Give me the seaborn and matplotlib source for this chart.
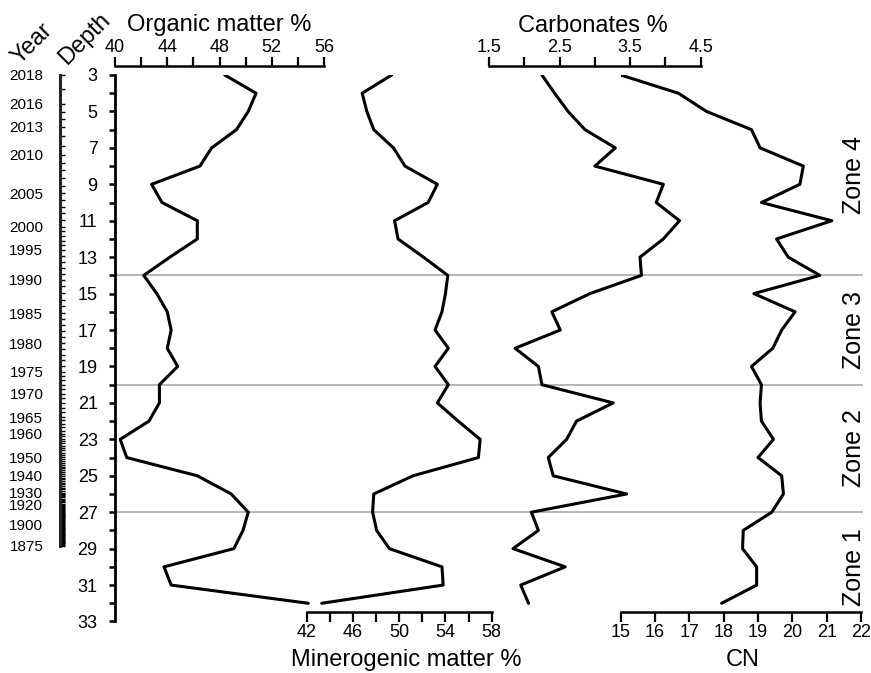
import numpy as np
import matplotlib
matplotlib.use("Agg")
import matplotlib.pyplot as plt
import matplotlib.transforms as mtransforms
from matplotlib.ticker import FixedLocator
import seaborn as sns

# sample depths (cm), one value per centimetre
depth = list(range(3, 33))

organic = [48.4, 50.8, 50.2, 49.3, 47.4, 46.5, 42.8, 43.6, 46.3, 46.3,
           44.2, 42.2, 43.2, 44.0, 44.3, 44.0, 44.8, 43.4, 43.4, 42.6,
           40.4, 40.9, 46.3, 48.9, 50.2, 49.8, 49.1, 43.75, 44.3, 54.8]

minerogenic = [49.35, 46.8, 47.2, 47.8, 49.5, 50.5, 53.3, 52.5, 49.6, 49.9,
               52.1, 54.2, 54.0, 53.7, 53.1, 54.25, 53.1, 54.25, 53.3, 55.1,
               57.0, 56.85, 51.2, 47.8, 47.7, 48.05, 49.15, 53.7, 53.8, 43.3]

carbonates = [2.25, 2.43, 2.62, 2.86, 3.29, 3.0, 3.97, 3.87, 4.2, 3.97,
              3.64, 3.66, 2.93, 2.39, 2.51, 1.87, 2.2, 2.25, 3.26, 2.74,
              2.6, 2.34, 2.41, 3.45, 2.1, 2.2, 1.84, 2.58, 1.95, 2.06]

cn = [15.0, 16.68, 17.5, 18.81, 19.06, 20.32, 20.22, 19.1, 21.15, 19.54,
      19.88, 20.8, 18.88, 20.08, 19.69, 19.43, 18.81, 19.1, 19.06, 19.1,
      19.45, 19.0, 19.69, 19.74, 19.4, 18.57, 18.55, 18.96, 18.96, 17.94]

# age-depth model (year -> depth)
year_labels = [2018, 2016, 2013, 2010, 2005, 2000, 1995, 1990, 1985, 1980,
               1975, 1970, 1965, 1960, 1950, 1940, 1930, 1920, 1900, 1875]
year_depth = [3.0, 4.59, 5.84, 7.39, 9.49, 11.32, 12.6, 14.24, 16.07, 17.72,
              19.28, 20.5, 21.78, 22.7, 23.98, 25.01, 25.92, 26.6, 27.66, 28.85]

zone_bounds = [3, 14, 20, 27, 33]
zone_names = ["Zone 4", "Zone 3", "Zone 2", "Zone 1"]

sns.set_style("white")
plt.rcParams["font.family"] = ["Liberation Sans", "DejaVu Sans"]
plt.rcParams["text.color"] = "black"

W, H = 871, 673
TOP, BOT = 75, 621.5
AX_BOTTOM = 611.7  # y of the lower x axes


def box(x0, x1, y0=TOP, y1=BOT):
    # pixel box -> figure rect
    return [x0 / W, 1 - y1 / H, (x1 - x0) / W, (y1 - y0) / H]


def fxy(x, y):
    return x / W, 1 - y / H


fig = plt.figure(figsize=(W / 100, H / 100), dpi=100)

# background: zone boundaries and labels
ax_bg = fig.add_axes(box(116, 863))
ax_bg.set_xlim(0, 1)
ax_bg.set_ylim(33, 3)
ax_bg.axis("off")
for b in zone_bounds[1:-1]:
    ax_bg.axhline(b, color="#a9a9a9", lw=1.2)
trans = mtransforms.blended_transform_factory(ax_bg.transAxes, ax_bg.transData)
for i, name in enumerate(zone_names):
    mid = (zone_bounds[i] + zone_bounds[i + 1]) / 2
    ax_bg.text((854 - 116) / (863 - 116), mid, name, transform=trans,
               rotation=90, ha="center", va="center", fontsize=18)


def panel(rect, xlim, side, major, minor):
    ax = fig.add_axes(rect)
    ax.set_facecolor("none")
    ax.set_xlim(*xlim)
    ax.set_ylim(33, 3)
    for s in ax.spines.values():
        s.set_visible(False)
    sp = ax.spines[side]
    sp.set_visible(True)
    sp.set_linewidth(1.8)
    sp.set_color("black")
    if side == "top":
        sp.set_position(("outward", 6.5))
        ax.xaxis.tick_top()
        ax.tick_params(axis="x", which="both", direction="out", length=6.2,
                       width=1.6, labelsize=13, pad=1, colors="black")
    else:
        sp.set_position(("axes", (BOT - AX_BOTTOM) / (BOT - TOP)))
        ax.xaxis.tick_bottom()
        ax.tick_params(axis="x", which="both", direction="out", length=7,
                       width=1.6, labelsize=13, pad=1.5, colors="black")
    ax.xaxis.set_major_locator(FixedLocator(major))
    ax.xaxis.set_minor_locator(FixedLocator(minor))
    ax.set_yticks([])
    return ax


ax_org = panel(box(115, 324), (40, 56), "top", [40, 44, 48, 52, 56], [42, 46, 50, 54])
ax_min = panel(box(306.7, 491.7), (42, 58), "bottom", [42, 46, 50, 54, 58], [44, 48, 52, 56])
ax_carb = panel(box(489, 700.7), (1.5, 4.5), "top", [1.5, 2.5, 3.5, 4.5], [2.0, 3.0, 4.0])
ax_cn = panel(box(620.7, 861), (15, 22), "bottom", list(range(15, 23)), [])

for ax, vals in [(ax_org, organic), (ax_min, minerogenic),
                 (ax_carb, carbonates), (ax_cn, cn)]:
    sns.lineplot(x=vals, y=depth, orient="y", estimator=None, color="black",
                 lw=2.2, ax=ax)
    ax.set_xlabel("")
    ax.set_ylabel("")
    ax.set_ylim(33, 3)

# depth axis on the organic panel
ax_org.spines["left"].set_visible(True)
ax_org.spines["left"].set_linewidth(2)
ax_org.spines["left"].set_color("black")
ax_org.yaxis.tick_left()
ax_org.yaxis.set_major_locator(FixedLocator(list(range(3, 34, 2))))
ax_org.yaxis.set_minor_locator(FixedLocator(list(range(3, 34))))
ax_org.tick_params(axis="y", which="both", direction="out", length=4.5,
                   width=1.8, labelsize=13, pad=8, colors="black")

# year axis
ax_year = fig.add_axes(box(60, 80))
ax_year.set_facecolor("none")
ax_year.set_ylim(33, 3)
ax_year.set_xticks([])
for s in ax_year.spines.values():
    s.set_visible(False)
ax_year.spines["left"].set_visible(True)
ax_year.spines["left"].set_linewidth(2.2)
ax_year.spines["left"].set_bounds(year_depth[0], year_depth[-1])
all_years = np.arange(year_labels[-1], year_labels[0] + 1)
all_year_depth = np.interp(all_years, year_labels[::-1], year_depth[::-1])
ax_year.yaxis.tick_left()
ax_year.yaxis.set_major_locator(FixedLocator(year_depth))
ax_year.set_yticklabels([str(y) for y in year_labels])
ax_year.yaxis.set_minor_locator(FixedLocator(list(all_year_depth)))
ax_year.tick_params(axis="y", which="both", left=True, direction="in",
                    length=3.5, width=1.0, labelsize=11, pad=12, colors="black")

# titles
fig.text(*fxy(219, 31), "Organic matter %", ha="center", va="baseline", fontsize=17)
fig.text(*fxy(593, 31.5), "Carbonates %", ha="center", va="baseline", fontsize=17)
fig.text(*fxy(406, 666), "Minerogenic matter %", ha="center", va="baseline", fontsize=17)
fig.text(*fxy(743, 666), "CN", ha="center", va="baseline", fontsize=17)
fig.text(*fxy(32, 44), "Year", rotation=45, ha="center", va="center", fontsize=17)
fig.text(*fxy(85, 39), "Depth", rotation=45, ha="center", va="center", fontsize=17)

fig.savefig("out.png", dpi=100, facecolor="white")
